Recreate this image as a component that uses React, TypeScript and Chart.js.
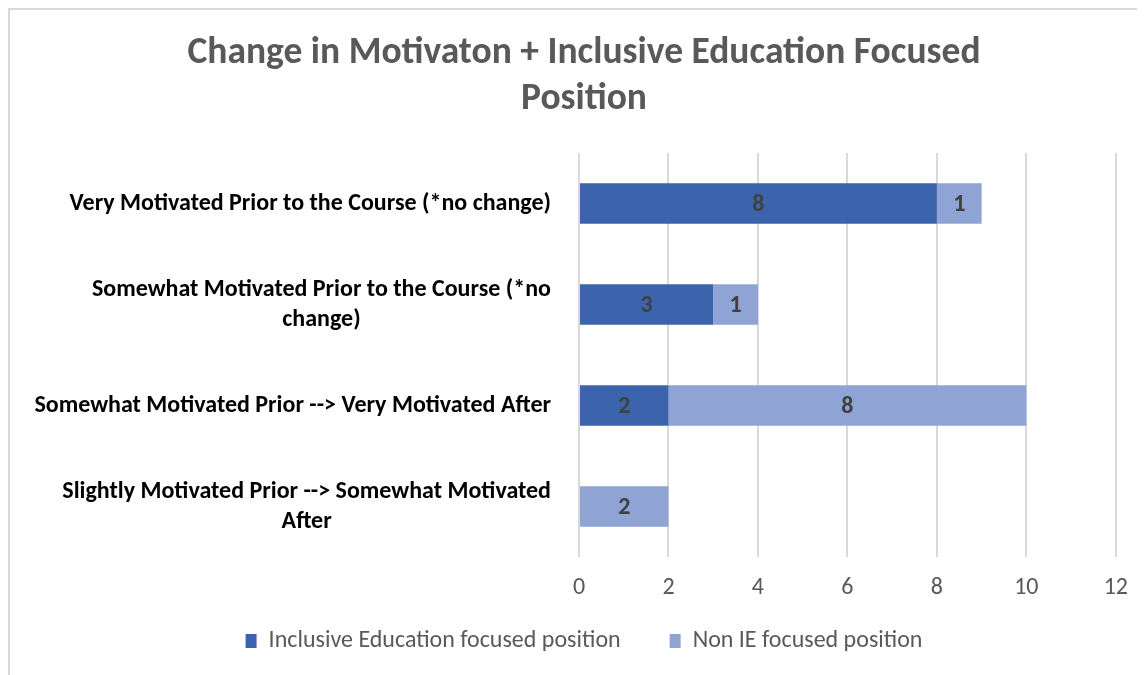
import React, { useEffect, useRef } from "react";
import { Chart, registerables } from "chart.js";

Chart.register(...registerables);

const categories: string[][] = [
  ["Very Motivated Prior to the Course (*no change)"],
  ["Somewhat Motivated Prior to the Course (*no", "change)"],
  ["Somewhat Motivated Prior --> Very Motivated After"],
  ["Slightly Motivated Prior --> Somewhat Motivated", "After"],
];
const ieFocused: number[] = [8, 3, 2, 0];
const nonIeFocused: number[] = [1, 1, 8, 2];
const seriesNames: string[] = ["Inclusive Education focused position", "Non IE focused position"];
const titleLines: string[] = ["Change in Motivaton + Inclusive Education Focused", "Position"];
const xMin = 0;
const xMax = 12;
const xStep = 2;

const FONT = "Carlito, Calibri, Lato, sans-serif";

const yLabelPlugin = {
  id: "yLabels",
  afterDraw(chart: any) {
    const ctx = chart.ctx;
    const y = chart.scales.y;
    const area = chart.chartArea;
    ctx.save();
    ctx.font = `bold 24px ${FONT}`;
    ctx.fillStyle = "#000000";
    ctx.textAlign = "center";
    ctx.textBaseline = "middle";
    const lh = 30;
    categories.forEach((lines, i) => {
      const cy = y.getPixelForValue(i);
      const bw = Math.max(...lines.map((l) => ctx.measureText(l).width));
      const cx = area.left - 28 - bw / 2;
      const startY = cy - ((lines.length - 1) * lh) / 2;
      lines.forEach((l, j) => ctx.fillText(l, cx, startY + j * lh));
    });
    ctx.restore();
  },
};

const dataLabelPlugin = {
  id: "barValues",
  afterDatasetsDraw(chart: any) {
    const ctx = chart.ctx;
    ctx.save();
    ctx.font = `bold 24px ${FONT}`;
    ctx.fillStyle = "#404040";
    ctx.textAlign = "center";
    ctx.textBaseline = "middle";
    chart.data.datasets.forEach((ds: any, di: number) => {
      const meta = chart.getDatasetMeta(di);
      meta.data.forEach((el: any, i: number) => {
        const v = ds.data[i];
        if (!v) return;
        const cx = (el.x + el.base) / 2;
        ctx.fillText(String(v), cx, el.y + 1);
      });
    });
    ctx.restore();
  },
};

export default function App() {
  const ref = useRef<HTMLCanvasElement | null>(null);
  useEffect(() => {
    if (!ref.current) return;
    const chart = new Chart(ref.current, {
      type: "bar",
      data: {
        labels: categories,
        datasets: [
          { label: seriesNames[0], data: ieFocused, backgroundColor: "#3C64AD", barPercentage: 0.4, categoryPercentage: 1 },
          { label: seriesNames[1], data: nonIeFocused, backgroundColor: "#8FA4D5", barPercentage: 0.4, categoryPercentage: 1 },
        ],
      },
      options: {
        indexAxis: "y",
        animation: false,
        responsive: false,
        maintainAspectRatio: false,
        layout: { padding: { left: 41, right: 28, top: 0, bottom: 12 } },
        plugins: {
          title: {
            display: true,
            text: titleLines,
            color: "#595959",
            font: { family: FONT, size: 37.5, weight: "bold", lineHeight: 46 / 37.5 },
            padding: { top: 21, bottom: 30 },
          },
          legend: {
            position: "bottom",
            labels: {
              color: "#595959",
              font: { family: FONT, size: 24 },
              boxWidth: 11,
              boxHeight: 14,
              padding: 49,
            },
          },
          tooltip: { enabled: false },
        },
        scales: {
          x: {
            stacked: true,
            min: xMin,
            max: xMax,
            ticks: { stepSize: xStep, color: "#595959", font: { family: FONT, size: 24 }, padding: 17 },
            grid: { color: "#D9D9D9", lineWidth: 2, drawTicks: false },
            border: { display: false },
            afterFit: (s: any) => {
              s.height = 23;
              // let the tick labels extend into the legend's top padding
              s._computeLabelArea = () => undefined;
            },
          },
          y: {
            stacked: true,
            ticks: { display: false },
            grid: { display: false },
            border: { display: false },
            afterFit: (s: any) => { s.width = 528; },
          },
        },
      },
      plugins: [yLabelPlugin, dataLabelPlugin],
    });
    return () => chart.destroy();
  }, []);
  return (
    <div style={{ width: 1135, height: 665, borderTop: "2px solid #D9D9D9", borderLeft: "2px solid #D9D9D9", background: "#fff" }}>
      <canvas ref={ref} width={1135} height={665} style={{ display: "block" }} />
    </div>
  );
}
